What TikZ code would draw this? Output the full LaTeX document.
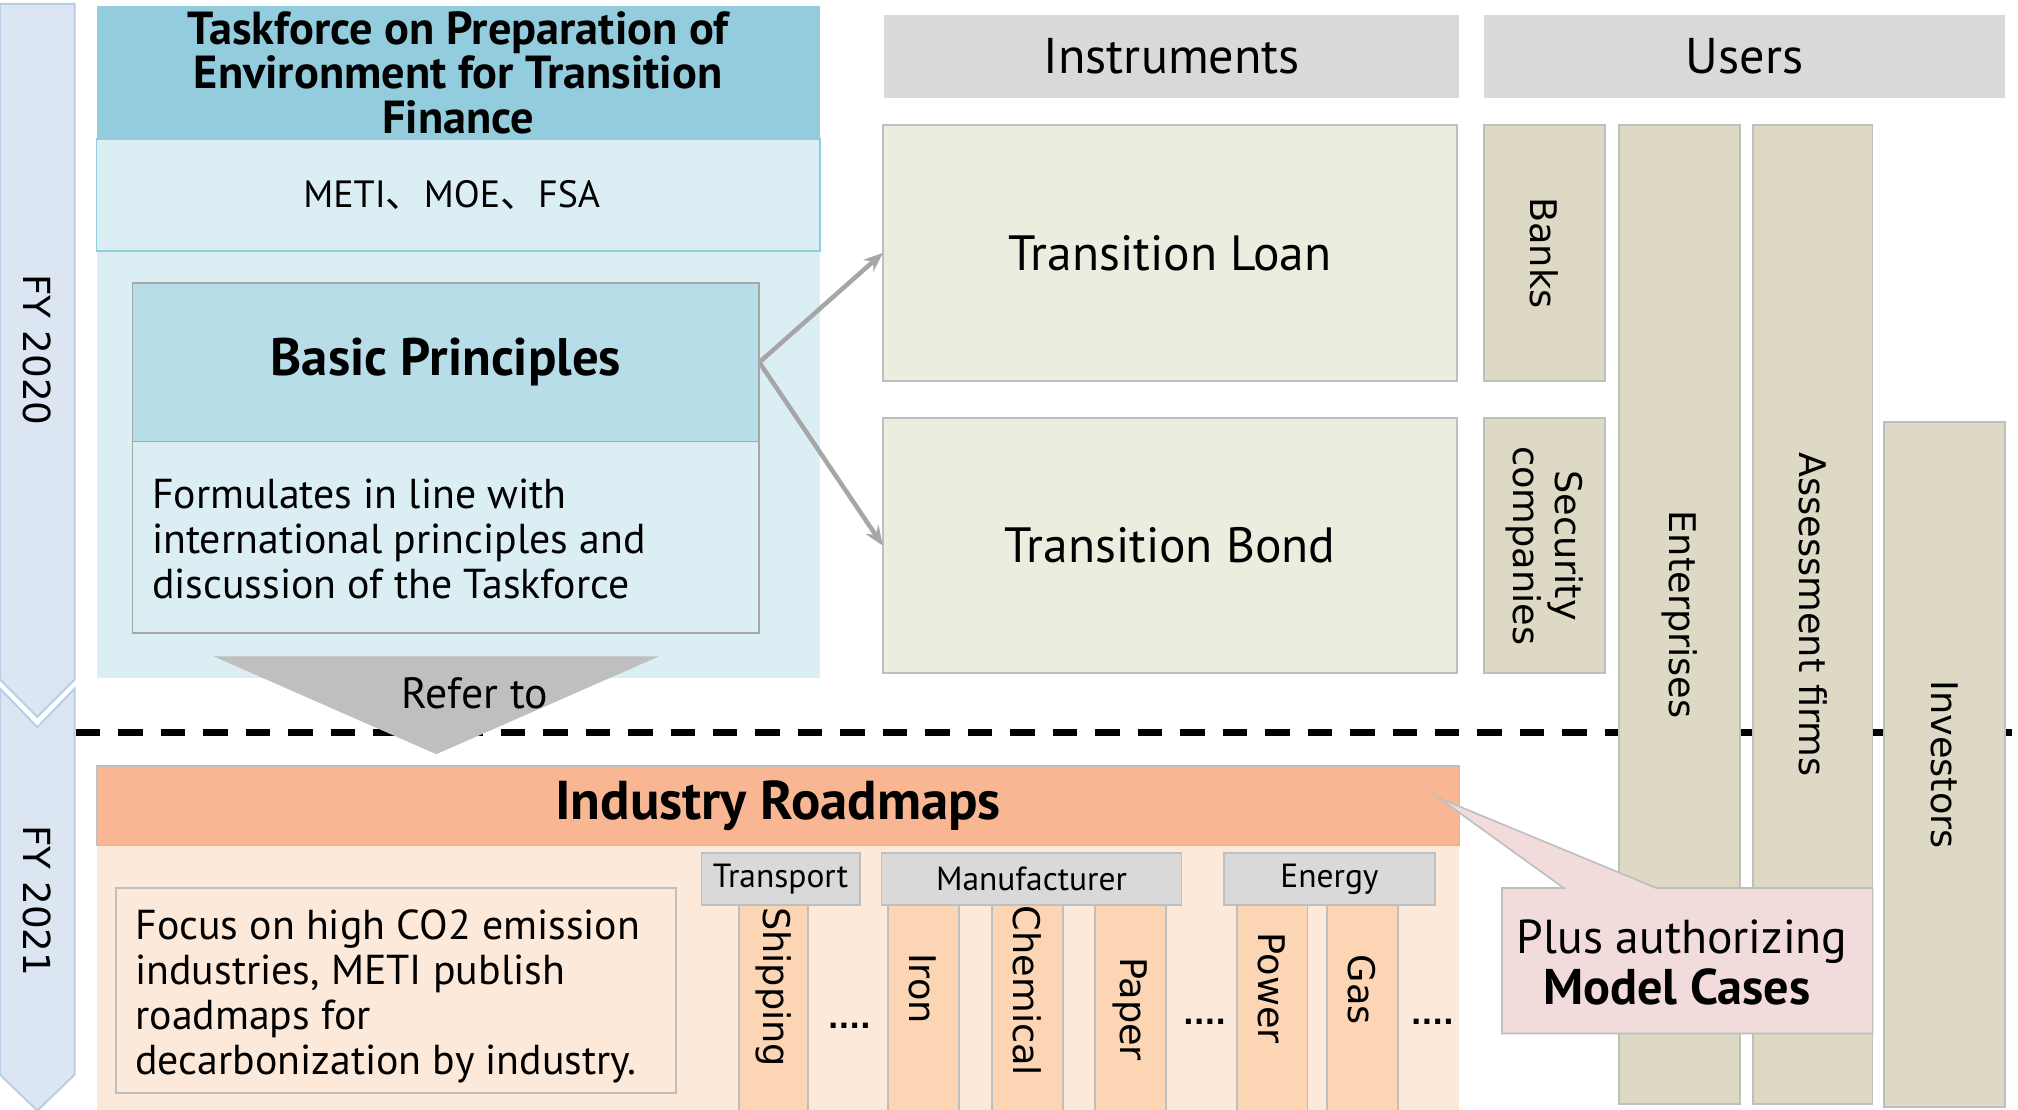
\documentclass[tikz,border=0pt]{standalone}
\usepackage{fontspec}
\setmainfont{PT Sans}
\newfontfamily\vfont{DejaVu Sans}
\newfontfamily\cjk{Noto Sans CJK JP}
\usetikzlibrary{arrows.meta}
\definecolor{chevfill}{HTML}{DCE6F2}
\definecolor{chevline}{HTML}{B9CDE5}
\definecolor{tfhead}{HTML}{93CDDD}
\definecolor{tflight}{HTML}{DBEEF4}
\definecolor{bphead}{HTML}{B7DEE8}
\definecolor{hdrgray}{HTML}{D9D9D9}
\definecolor{bord}{HTML}{BFBFBF}
\definecolor{bordtwo}{HTML}{A6A6A6}
\definecolor{loanfill}{HTML}{EBEEDF}
\definecolor{userfill}{HTML}{DDD9C4}
\definecolor{rmhead}{HTML}{F8B692}
\definecolor{rmlight}{HTML}{FDE9D9}
\definecolor{secfill}{HTML}{FCD5B5}
\definecolor{callfill}{HTML}{F2DCDB}
\definecolor{arrgray}{HTML}{A6A6A6}
\definecolor{trigray}{HTML}{BFBFBF}
\begin{document}
\begin{tikzpicture}[x=1pt,y=-1pt,
  box/.style={anchor=north west, inner sep=0pt, outer sep=0pt, line width=1.3pt},
  graybox/.style={box, draw=bord},
  chev/.style={fill=chevfill, draw=chevline, line width=1.5pt},
  vtext/.style={rotate=-90, font=\vfont\fontsize{28.5}{33}\selectfont, inner sep=0pt, align=center},
  stext/.style={rotate=-90, font=\vfont\fontsize{28.5}{33}\selectfont, inner sep=0pt},
  body/.style={font=\fontsize{32.5}{35}\selectfont, inner sep=0pt, align=left},
  big/.style={font=\fontsize{38.5}{44}\selectfont, inner sep=0pt},
  cat/.style={font=\fontsize{26}{30}\selectfont},
  dots/.style={font=\vfont\bfseries\fontsize{22}{24}\selectfont, inner sep=0pt},
  conn/.style={draw=arrgray, line width=3.5pt, -{Stealth[length=15pt,width=12pt]}}
]
\useasboundingbox (0,0) rectangle (1568,862);

% dashed separator
\coordinate (dl) at (59,569);
\coordinate (dr) at (1570,569);
\draw[line width=5pt, dash pattern=on 19pt off 14pt] (dl) -- (dr);

% FY chevrons
\path[chev] (0,3) -- (58,3) -- (58,528) -- (29,557) -- (0,528) -- cycle;
\path[chev] (0,535) -- (29,565) -- (58,535) -- (58,835) -- (29,863) -- (0,835) -- cycle;
\node[stext, font=\vfont\fontsize{29}{33}\selectfont] (fya) at (29,272) {FY 2020};
\node[stext, font=\vfont\fontsize{29}{33}\selectfont] (fyb) at (29,700) {FY 2021};

% Taskforce panel
\node[box, fill=tflight, minimum width=562pt, minimum height=332pt] (tfpanel) at (75,195) {};
\node[box, fill=tfhead, minimum width=562pt, minimum height=103pt, align=center,
      font=\bfseries\fontsize{36}{34.5}\selectfont] (tf) at (75,5)
      {Taskforce on Preparation of\\Environment for Transition\\Finance};
\node[box, fill=tflight, draw=tfhead, minimum width=562pt, minimum height=87pt] (meti) at (75,108) {};
\node[font=\fontsize{29.5}{34}\selectfont, inner sep=0pt] (metiT) at ([xshift=-5pt]meti.center) {METI{\cjk 、}MOE{\cjk 、}FSA};
\node[box, fill=bphead, draw=bordtwo, minimum width=487pt, minimum height=123pt,
      font=\bfseries\fontsize{41}{46}\selectfont] (bp) at (103,220) {Basic Principles};
\node[box, fill=tflight, draw=bordtwo, minimum width=487pt, minimum height=149pt] (bpd) at (103,343) {};
\node[body, anchor=west] (bpdt) at (118,419)
  {Formulates in line with\\international principles and\\discussion of the Taskforce};

% Instruments and Users
\node[box, fill=hdrgray, minimum width=447pt, minimum height=64pt, big, font=\fontsize{39}{44}\selectfont] (instr) at (687,12) {Instruments};
\node[box, fill=hdrgray, minimum width=405pt, minimum height=64pt, big, font=\fontsize{39}{44}\selectfont] (users) at (1153,12) {Users};
\node[graybox, fill=loanfill, minimum width=446pt, minimum height=199pt, big] (loan) at (686,97) {Transition Loan};
\node[graybox, fill=loanfill, minimum width=446pt, minimum height=198pt, big] (bond) at (686,325) {Transition Bond};

\draw[conn] (bp.east) -- (loan.west);
\draw[conn] (bp.east) -- (bond.west);

% user columns
\node[graybox, fill=userfill, minimum width=94pt, minimum height=199pt] (banks) at (1153,97) {};
\node[graybox, fill=userfill, minimum width=94pt, minimum height=198pt] (secu) at (1153,325) {};
\node[graybox, fill=userfill, minimum width=94pt, minimum height=761pt] (ent) at (1258,97) {};
\node[graybox, fill=userfill, minimum width=93pt, minimum height=761pt] (ass) at (1362,97) {};
\node[graybox, fill=userfill, minimum width=94pt, minimum height=532pt] (inv) at (1464,328) {};
\node[vtext] (banksT) at (banks.center) {Banks};
\node[vtext] (secuT) at (secu.center) {Security\\companies};
\node[vtext] (entT) at (ent.center) {Enterprises};
\node[vtext] (assT) at (ass.center) {Assessment firms};
\node[vtext] (invT) at (inv.center) {Investors};

% Refer to arrow
\path[fill=trigray] (166,510) -- (512,510) -- (339,586) -- cycle;
\node[font=\fontsize{34}{38}\selectfont, inner sep=0pt] (refer) at (369,539) {Refer to};

% Industry roadmaps
\node[box, fill=rmlight, minimum width=1059pt, minimum height=210pt] (rmpanel) at (75,657) {};
\node[graybox, fill=rmhead, minimum width=1059pt, minimum height=62pt,
      font=\bfseries\fontsize{42.5}{46}\selectfont] (rm) at (75,595) {Industry Roadmaps};
\node[graybox, fill=rmlight, minimum width=435pt, minimum height=159pt] (focus) at (90,690) {};
\node[body, anchor=west] (focusT) at (105,774.5)
  {Focus on high CO2 emission\\industries, METI publish\\roadmaps for\\decarbonization by industry.};

\node[graybox, fill=hdrgray, minimum width=123pt, minimum height=40pt, cat] (transp) at (545,663) {Transport};
\node[graybox, fill=hdrgray, minimum width=233pt, minimum height=40pt, cat] (manuf) at (685,663) {Manufacturer};
\node[graybox, fill=hdrgray, minimum width=164pt, minimum height=40pt, cat] (energy) at (951,663) {Energy};

\node[graybox, fill=secfill, minimum width=54pt, minimum height=170pt] (ship) at (574,703) {};
\node[graybox, fill=secfill, minimum width=55pt, minimum height=170pt] (iron) at (690,703) {};
\node[graybox, fill=secfill, minimum width=55pt, minimum height=170pt] (chem) at (771,703) {};
\node[graybox, fill=secfill, minimum width=55pt, minimum height=170pt] (paper) at (851,703) {};
\node[graybox, fill=secfill, minimum width=55pt, minimum height=170pt] (power) at (961,703) {};
\node[graybox, fill=secfill, minimum width=55pt, minimum height=170pt] (gas) at (1031,703) {};
\node[stext] (shipT) at (601,767) {Shipping};
\node[stext] (ironT) at (717,768) {Iron};
\node[stext] (chemT) at (798,770) {Chemical};
\node[stext] (paperT) at (878,784) {Paper};
\node[stext] (powerT) at (988,768) {Power};
\node[stext] (gasT) at (1058,769) {Gas};
\node[dots] (dotsa) at (660,797) {....};
\node[dots] (dotsb) at (936,794) {....};
\node[dots] (dotsc) at (1113,794) {....};

% callout
\path[fill=callfill, draw=bord, line width=1.3pt]
  (1167,690) -- (1215,690) -- (1118,620) -- (1287,690) -- (1455,690)
  -- (1455,803) -- (1167,803) -- cycle;
\node[font=\fontsize{37}{40}\selectfont, align=center, inner sep=0pt] (mc) at (1307,748)
  {Plus authorizing\\{\bfseries\fontsize{39}{40}\selectfont Model Cases\hspace*{8pt}}};
\end{tikzpicture}
\end{document}
